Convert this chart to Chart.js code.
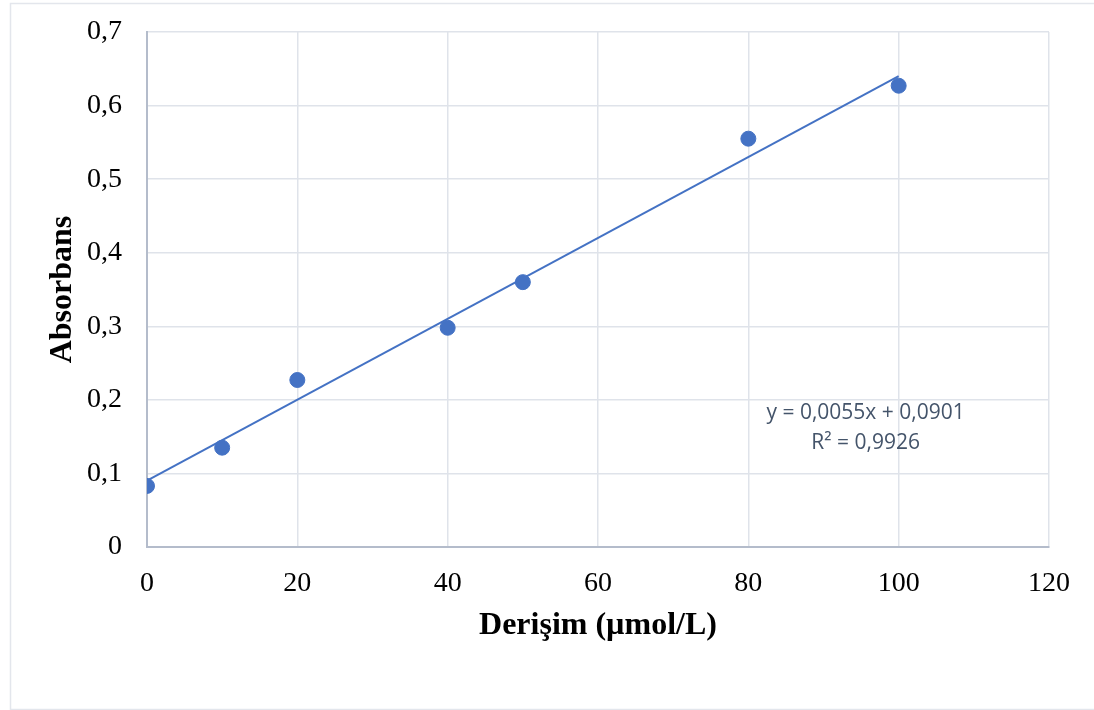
<!DOCTYPE html>
<html>
<head>
<meta charset="utf-8">
<script src="https://cdn.jsdelivr.net/npm/chart.js"></script>
<style>
  html, body { margin: 0; padding: 0; background: #fff; }
  #wrap { width: 1094px; height: 710px; position: relative; }
</style>
</head>
<body>
<div id="wrap"><canvas id="chart" width="1094" height="710"></canvas></div>
<script>
// data
const concentrations = [0, 10, 20, 40, 50, 80, 100];
const absorbance = [0.083, 0.135, 0.227, 0.298, 0.360, 0.555, 0.627];
const trendSlope = 0.0055;
const trendIntercept = 0.0901;
const trendRange = [0, 100];
const equationLines = ['y = 0,0055x + 0,0901', 'R² = 0,9926'];

const points = concentrations.map((x, i) => ({ x: x, y: absorbance[i] }));
const trend = trendRange.map(x => ({ x: x, y: trendSlope * x + trendIntercept }));

const comma = v => String(v).replace('.', ',');

// light frame round the whole chart
const frame = {
    id: 'frame',
    beforeDraw(chart) {
        const c = chart.ctx;
        c.save();
        c.strokeStyle = '#e3e6ec';
        c.lineWidth = 1.5;
        c.strokeRect(10.5, 3.5, 1100, 706);
        c.restore();
    }
};

// trendline equation label, placed in data units
const equation = {
    id: 'equation',
    afterDatasetsDraw(chart) {
        const c = chart.ctx;
        const xs = chart.scales.x, ys = chart.scales.y;
        const cx = xs.getPixelForValue(95.6);
        c.save();
        c.font = '21px "Open Sans", "Liberation Sans", sans-serif';
        c.fillStyle = '#44546a';
        c.textAlign = 'center';
        c.textBaseline = 'middle';
        c.fillText(equationLines[0], cx, ys.getPixelForValue(0.182));
        c.fillText(equationLines[1], cx, ys.getPixelForValue(0.141));
        c.restore();
    }
};

const serif = '"Liberation Serif", "Times New Roman", serif';

new Chart(document.getElementById('chart').getContext('2d'), {
    type: 'scatter',
    data: {
        datasets: [{
            label: 'Absorbans',
            data: points,
            backgroundColor: '#4472c4',
            borderColor: '#4472c4',
            pointRadius: 7.5,
            pointHoverRadius: 7.5,
            order: 1
        }, {
            label: 'Trend',
            type: 'line',
            data: trend,
            borderColor: '#4472c4',
            borderWidth: 2,
            pointRadius: 0,
            fill: false,
            order: 2
        }]
    },
    options: {
        responsive: false,
        animation: false,
        layout: { padding: { left: 40, top: 32, right: 45, bottom: 61 } },
        plugins: {
            legend: { display: false },
            tooltip: { enabled: false }
        },
        scales: {
            x: {
                type: 'linear',
                min: 0,
                max: 120,
                ticks: {
                    stepSize: 20,
                    padding: 20,
                    color: '#000',
                    font: { family: serif, size: 28 }
                },
                grid: { color: '#dfe3ea', lineWidth: 1.5, drawTicks: false },
                border: { color: '#b4bccb', width: 2 },
                title: {
                    display: true,
                    text: 'Derişim (µmol/L)',
                    color: '#000',
                    font: { family: serif, size: 32, weight: 'bold' }
                },
                afterFit(scale) { scale.height = 102; }
            },
            y: {
                min: 0,
                max: 0.7,
                ticks: {
                    stepSize: 0.1,
                    padding: 25,
                    color: '#000',
                    font: { family: serif, size: 28 },
                    callback: v => comma(Math.round(v * 10) / 10)
                },
                grid: { color: '#dfe3ea', lineWidth: 1.5, drawTicks: false },
                border: { color: '#b4bccb', width: 2 },
                title: {
                    display: true,
                    text: 'Absorbans',
                    color: '#000',
                    font: { family: serif, size: 32, weight: 'bold' }
                },
                afterFit(scale) {
                    scale.width = 107;
                    scale.paddingTop = 0;
                    scale.paddingBottom = 0;
                }
            }
        }
    },
    plugins: [frame, equation]
});
</script>
</body>
</html>
